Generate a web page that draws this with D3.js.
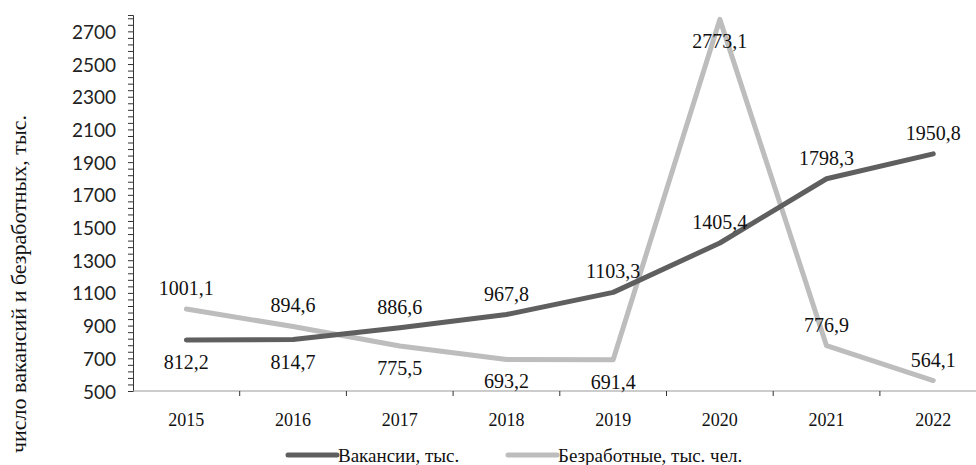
<!DOCTYPE html>
<html>
<head>
<meta charset="utf-8">
<script src="https://cdn.jsdelivr.net/npm/d3@7"></script>
<style>
  body { margin: 0; background: #fff; }
  svg { display: block; }
  .serif { font-family: 'Liberation Serif', 'DejaVu Serif', serif; }
  .sans { font-family: 'Lato', 'Liberation Sans', sans-serif; }
</style>
</head>
<body>
<div id="chart"></div>
<script>
var years = ['2015', '2016', '2017', '2018', '2019', '2020', '2021', '2022'];
var vacancies = [812.2, 814.7, 886.6, 967.8, 1103.3, 1405.4, 1798.3, 1950.8];
var unemployed = [1001.1, 894.6, 775.5, 693.2, 691.4, 2773.1, 776.9, 564.1];
// where the value label sits: 't' above the point, 'b' below it
var vacanciesLabelPos = ['b', 'b', 't', 't', 't', 't', 't', 't'];
var unemployedLabelPos = ['t', 't', 'b', 'b', 'b', 'b', 't', 't'];
var yTicks = [500, 700, 900, 1100, 1300, 1500, 1700, 1900, 2100, 2300, 2500, 2700];

var width = 976, height = 465;

var x = d3.scaleBand().domain(years).range([133, 986.6]);
var y = d3.scaleLinear().domain([500, 2800]).range([391, 15]);

var svg = d3.select('#chart').append('svg')
    .attr('width', width)
    .attr('height', height);

var fmt = function(v) { return v.toFixed(1).replace('.', ','); };

// y axis with minor ticks
var yMinor = d3.range(500, 2801, 40);
svg.append('g')
    .attr('transform', 'translate(133,0)')
    .call(d3.axisLeft(y).tickValues(yMinor).tickSize(5).tickFormat(''))
    .call(function(g) {
	g.select('.domain').attr('stroke', '#333');
	g.selectAll('.tick line').attr('stroke', '#333');
    });

svg.append('g')
    .selectAll('text')
    .data(yTicks)
    .enter()
    .append('text')
    .attr('class', 'sans')
    .attr('x', 116)
    .attr('y', function(d) { return y(d); })
    .attr('text-anchor', 'end')
    .attr('dominant-baseline', 'central')
    .attr('font-size', 19)
    .attr('fill', '#222')
    .text(function(d) { return d; });

// x axis
var xAxis = svg.append('g')
    .attr('transform', 'translate(0,391)');
xAxis.append('line')
    .attr('x1', 133).attr('x2', width)
    .attr('y1', 0).attr('y2', 0)
    .attr('stroke', '#999').attr('stroke-width', 1);
xAxis.selectAll('line.tk')
    .data(years.slice(1))
    .enter()
    .append('line')
    .attr('class', 'tk')
    .attr('x1', function(d) { return x(d); })
    .attr('x2', function(d) { return x(d); })
    .attr('y1', 0).attr('y2', 5)
    .attr('stroke', '#333');
xAxis.selectAll('text')
    .data(years)
    .enter()
    .append('text')
    .attr('class', 'serif')
    .attr('x', function(d) { return x(d) + x.bandwidth() / 2; })
    .attr('y', 29)
    .attr('text-anchor', 'middle')
    .attr('dominant-baseline', 'central')
    .attr('font-size', 18)
    .attr('fill', '#111')
    .text(function(d) { return d; });

// y axis title
svg.append('text')
    .attr('class', 'serif')
    .attr('transform', 'translate(18,284) rotate(-90)')
    .attr('text-anchor', 'middle')
    .attr('dominant-baseline', 'central')
    .attr('font-size', 22)
    .attr('fill', '#111')
    .text('число вакансий и безработных, тыс.');

var cx = function(d, i) { return x(years[i]) + x.bandwidth() / 2; };

var line = d3.line()
    .x(cx)
    .y(function(d) { return y(d); });

var series = [
    {values: unemployed, pos: unemployedLabelPos, color: '#bdbdbd'},
    {values: vacancies, pos: vacanciesLabelPos, color: '#5f5f5f'}
];

series.forEach(function(s) {
    svg.append('path')
	.datum(s.values)
	.attr('d', line)
	.attr('fill', 'none')
	.attr('stroke', s.color)
	.attr('stroke-width', 5)
	.attr('stroke-linejoin', 'round')
	.attr('stroke-linecap', 'round');
});

series.forEach(function(s) {
    svg.append('g')
	.selectAll('text')
	.data(s.values)
	.enter()
	.append('text')
	.attr('class', 'serif')
	.attr('x', cx)
	.attr('y', function(d, i) { return y(d) + (s.pos[i] === 't' ? -21 : 22); })
	.attr('text-anchor', 'middle')
	.attr('dominant-baseline', 'central')
	.attr('font-size', 20)
	.attr('fill', '#111')
	.text(fmt);
});

// legend
var legend = [
    {name: 'Вакансии, тыс.', color: '#5f5f5f', x: 288},
    {name: 'Безработные, тыс. чел.', color: '#bdbdbd', x: 508}
];
var lg = svg.selectAll('g.legend')
    .data(legend)
    .enter()
    .append('g')
    .attr('class', 'legend')
    .attr('transform', function(d) { return 'translate(' + d.x + ',455)'; });
lg.append('line')
    .attr('x1', 0).attr('x2', 49)
    .attr('y1', 0).attr('y2', 0)
    .attr('stroke', function(d) { return d.color; })
    .attr('stroke-width', 5)
    .attr('stroke-linecap', 'round');
lg.append('text')
    .attr('class', 'serif')
    .attr('x', 50)
    .attr('y', 0)
    .attr('dominant-baseline', 'central')
    .attr('font-size', 19)
    .attr('fill', '#111')
    .text(function(d) { return d.name; });
</script>
</body>
</html>
